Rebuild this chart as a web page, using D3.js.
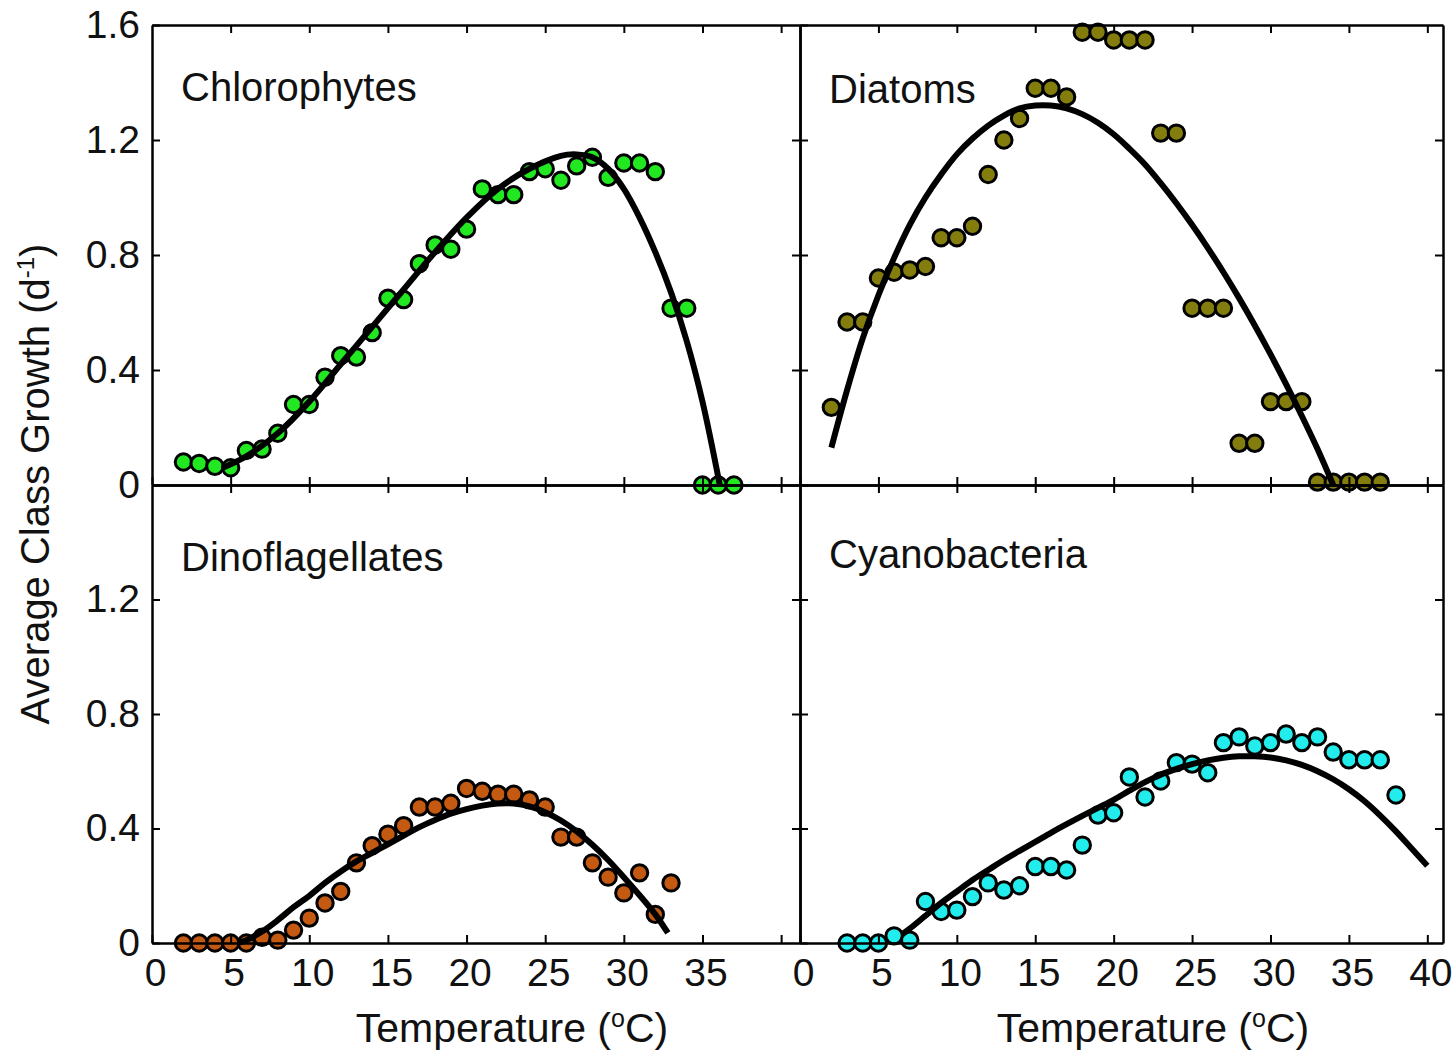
<!DOCTYPE html>
<html>
<head>
<meta charset="utf-8">
<script src="https://cdn.jsdelivr.net/npm/d3@7"></script>
<style>
  body { margin: 0; background: #fff; }
  svg { display: block; }
  text { font-family: "Liberation Sans", Arial, Helvetica, sans-serif; fill: #111; }
</style>
</head>
<body>
<svg id="chart" width="1454" height="1051"></svg>
<script>
// ---- Observed average growth rates (d^-1) by temperature (°C) ----
const tempsChloro = [2,3,4,5,6,7,8,9,10,11,12,13,14,15,16,17,18,19,20,21,22,23,24,25,26,27,28,29,30,31,32,33,34,35,36,37];
const growthChloro = [0.08,0.075,0.065,0.06,0.12,0.125,0.18,0.28,0.28,0.375,0.45,0.445,0.53,0.65,0.645,0.77,0.835,0.82,0.89,1.03,1.01,1.01,1.09,1.10,1.06,1.11,1.14,1.07,1.12,1.12,1.09,0.615,0.615,0,0,0];

const tempsDiatom = [2,3,4,5,6,7,8,9,10,11,12,13,14,15,16,17,18,19,20,21,22,23,24,25,26,27,28,29,30,31,32,33,34,35,36,37];
const growthDiatom = [0.27,0.567,0.567,0.72,0.74,0.748,0.76,0.86,0.86,0.90,1.08,1.20,1.275,1.38,1.38,1.35,1.575,1.575,1.548,1.548,1.548,1.224,1.224,0.615,0.615,0.615,0.145,0.145,0.29,0.29,0.29,0.01,0.01,0.01,0.01,0.01];

const tempsDino = [2,3,4,5,6,7,8,9,10,11,12,13,14,15,16,17,18,19,20,21,22,23,24,25,26,27,28,29,30,31,32,33];
const growthDino = [0,0,0,0,0,0.02,0.01,0.045,0.087,0.14,0.18,0.28,0.34,0.38,0.41,0.475,0.475,0.488,0.54,0.53,0.52,0.52,0.50,0.475,0.37,0.37,0.28,0.23,0.175,0.245,0.10,0.21];

const tempsCyano = [3,4,5,6,7,8,9,10,11,12,13,14,15,16,17,18,19,20,21,22,23,24,25,26,27,28,29,30,31,32,33,34,35,36,37,38];
const growthCyano = [0,0,0,0.025,0.01,0.145,0.11,0.115,0.162,0.21,0.185,0.2,0.267,0.267,0.255,0.342,0.447,0.455,0.58,0.51,0.566,0.63,0.625,0.595,0.70,0.72,0.688,0.70,0.73,0.70,0.72,0.667,0.64,0.64,0.64,0.517];

// ---- Fitted thermal response curves ----
const fitTChloro = [4.5,6,8,10,12,14,16,18,20,22,24,26,27,28,29,30,31,32,33,34,35,36.1];
const fitVChloro = [0.06,0.10,0.18,0.29,0.42,0.55,0.68,0.81,0.93,1.03,1.10,1.145,1.15,1.14,1.10,1.03,0.93,0.81,0.67,0.50,0.29,0.0];

const fitTDiatom = [2,3,4,5,6,7,8,9,10,11,12,13,14,15,16,17,18,19,20,21,22,23,24,25,26,27,28,29,30,31,32,33,34];
const fitVDiatom = [0.13,0.33,0.51,0.66,0.79,0.905,1.00,1.08,1.15,1.205,1.25,1.285,1.31,1.32,1.32,1.31,1.29,1.26,1.22,1.17,1.115,1.05,0.98,0.905,0.825,0.74,0.65,0.555,0.455,0.35,0.24,0.125,0.0];

const fitTDino = [5.5,6,7,8,9,10,11,12,13,14,15,16,17,18,19,20,21,22,23,24,25,26,27,28,29,30,31,32,32.8];
const fitVDino = [0,0.01,0.04,0.08,0.125,0.165,0.21,0.25,0.285,0.315,0.345,0.375,0.405,0.43,0.452,0.468,0.48,0.487,0.487,0.477,0.457,0.428,0.39,0.343,0.29,0.23,0.167,0.10,0.035];

const fitTCyano = [6.5,7,8,9,10,11,12,13,14,15,16,17,18,19,20,21,22,23,24,25,26,27,28,29,30,31,32,33,34,35,36,37,38,39,40];
const fitVCyano = [0.03,0.05,0.095,0.14,0.18,0.22,0.255,0.29,0.322,0.353,0.385,0.415,0.444,0.472,0.50,0.532,0.562,0.588,0.608,0.625,0.638,0.647,0.652,0.652,0.648,0.638,0.622,0.60,0.572,0.537,0.495,0.445,0.39,0.33,0.27];

// ---- Axis ticks and labels ----
const xTickValues = [0,5,10,15,20,25,30,35,40];
const yTickValues = [0,0.4,0.8,1.2,1.6];
const panelNames = ["Chlorophytes","Diatoms","Dinoflagellates","Cyanobacteria"];
const pointColors = ["#22e822","#837d0e","#c45a12","#22ecec"];

// ---- Panel layout ----
const colX = [[152, 800], [800, 1443]];
const colDomain = [[0, 41.2], [0, 41]];
const rowY = [[25, 485], [485, 943]];

const panels = [
  { name: panelNames[0], t: tempsChloro, v: growthChloro, ft: fitTChloro, fv: fitVChloro, color: pointColors[0], col: 0, row: 0, labelY: 101 },
  { name: panelNames[1], t: tempsDiatom, v: growthDiatom, ft: fitTDiatom, fv: fitVDiatom, color: pointColors[1], col: 1, row: 0, labelY: 103 },
  { name: panelNames[2], t: tempsDino,   v: growthDino,   ft: fitTDino,   fv: fitVDino,   color: pointColors[2], col: 0, row: 1, labelY: 571 },
  { name: panelNames[3], t: tempsCyano,  v: growthCyano,  ft: fitTCyano,  fv: fitVCyano,  color: pointColors[3], col: 1, row: 1, labelY: 568 }
];

const svg = d3.select("#chart");
const TICK = 8;
const fmtY = d => d === 0 ? "0" : d.toFixed(1);

function styleAxis(g) {
  g.select(".domain").attr("stroke", "#000").attr("stroke-width", 2.5);
  g.selectAll(".tick line").attr("stroke", "#000").attr("stroke-width", 2);
  g.selectAll(".tick text").attr("font-size", 39).attr("fill", "#111")
    .attr("font-family", '"Liberation Sans", Arial, sans-serif');
}

panels.forEach(p => {
  const x = d3.scaleLinear().domain(colDomain[p.col]).range(colX[p.col]);
  const y = d3.scaleLinear().domain([0, 1.6]).range([rowY[p.row][1], rowY[p.row][0]]);
  const [x0, x1] = colX[p.col];
  const [y0, y1] = rowY[p.row];
  const g = svg.append("g");

  // data points
  const pts = p.t.map((t, i) => ({ t, v: p.v[i] }));
  g.append("g").selectAll("circle").data(pts).join("circle")
    .attr("cx", d => x(d.t)).attr("cy", d => y(d.v)).attr("r", 8.2)
    .attr("fill", p.color).attr("stroke", "#000").attr("stroke-width", 3);

  // fitted curve
  const fit = p.ft.map((t, i) => ({ t, v: p.fv[i] }));
  g.append("path").datum(fit)
    .attr("fill", "none").attr("stroke", "#000").attr("stroke-width", 6)
    .attr("stroke-linecap", "butt")
    .attr("d", d3.line().x(d => x(d.t)).y(d => y(d.v)).curve(d3.curveCatmullRom.alpha(0.5)));

  // bottom axis (ticks inward, labels only on bottom row)
  const isBottom = p.row === 1;
  const maxLabel = p.col === 0 ? 35 : 40;
  g.append("g").attr("transform", `translate(0,${y1})`)
    .call(d3.axisBottom(x).tickValues(xTickValues).tickSizeInner(-TICK).tickSizeOuter(0).tickPadding(15)
      .tickFormat(d => (isBottom && d <= maxLabel) ? String(d) : ""))
    .call(styleAxis)
    .call(a => a.selectAll(".tick text").attr("dx", 3));

  // top axis
  g.append("g").attr("transform", `translate(0,${y0})`)
    .call(d3.axisTop(x).tickValues(xTickValues.slice(1)).tickSizeInner(-TICK).tickSizeOuter(0).tickFormat(""))
    .call(styleAxis);

  // left axis (labels only on left column)
  const yLabels = p.row === 0 ? yTickValues : yTickValues.filter(v => v < 1.6);
  g.append("g").attr("transform", `translate(${x0},0)`)
    .call(d3.axisLeft(y).tickValues(yTickValues).tickSizeInner(-TICK).tickSizeOuter(0).tickPadding(12)
      .tickFormat(d => (p.col === 0 && yLabels.includes(d)) ? fmtY(d) : ""))
    .call(styleAxis);

  // right axis
  g.append("g").attr("transform", `translate(${x1},0)`)
    .call(d3.axisRight(y).tickValues(yTickValues.slice(1, 4)).tickSizeInner(-TICK).tickSizeOuter(0).tickFormat(""))
    .call(styleAxis);

  // panel title
  g.append("text").attr("x", x0 + 29).attr("y", p.labelY)
    .attr("font-size", 40).text(p.name);
});

// x-axis titles
[0, 1].forEach(c => {
  const cx = c === 0 ? 512 : 1153;
  const t = svg.append("text").attr("x", cx).attr("y", 1042)
    .attr("text-anchor", "middle").attr("font-size", 41);
  t.append("tspan").text("Temperature (");
  t.append("tspan").attr("font-size", 25).attr("dy", -15).text("o");
  t.append("tspan").attr("dy", 15).text("C)");
});

// y-axis title
const yt = svg.append("text")
  .attr("transform", "translate(49,484) rotate(-90)")
  .attr("text-anchor", "middle").attr("font-size", 40);
yt.append("tspan").text("Average Class Growth (d");
yt.append("tspan").attr("font-size", 24).attr("dy", -15).text("-1");
yt.append("tspan").attr("dy", 15).text(")");
</script>
</body>
</html>
